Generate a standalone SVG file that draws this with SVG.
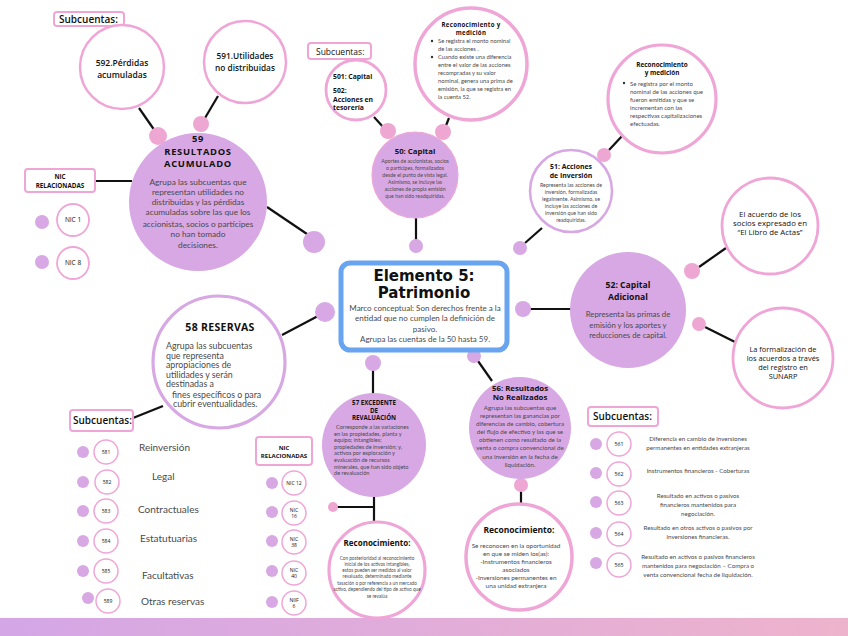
<svg xmlns="http://www.w3.org/2000/svg" width="848" height="636" viewBox="0 0 848 636">
<defs>
<linearGradient id="bar" x1="0" y1="0" x2="1" y2="0">
<stop offset="0" stop-color="#d4a6e6"/>
<stop offset="1" stop-color="#eeb3cc"/>
</linearGradient>
<style>
.pf{fill:#d7a8e3}
.pk{fill:#fff;stroke:#efa6d6}
.pu{fill:#fff;stroke:#d7a8e3}
.dp{fill:#d7a8e3}
.dk{fill:#eea6d3}
.ln{stroke:#111;stroke-width:2.2;fill:none}
.t{font-family:'Open Sans','DejaVu Sans',sans-serif;font-weight:700;fill:#111}
.s{font-family:'Open Sans','DejaVu Sans',sans-serif;fill:#111}
.b{font-family:Lato,'Open Sans',sans-serif;fill:#4a4a4a}
.m{text-anchor:middle}
</style>
</defs>
<rect width="848" height="636" fill="#fff"/>
<rect x="0" y="618" width="848" height="18" fill="url(#bar)"/>

<g id="connectors">
<line class="ln" x1="95" y1="181" x2="132" y2="181"/>
<line class="ln" x1="139" y1="108" x2="155" y2="131"/>
<line class="ln" x1="218" y1="96" x2="205" y2="118"/>
<line class="ln" x1="267" y1="207" x2="307" y2="234"/>
<line class="ln" x1="282" y1="335" x2="318" y2="316"/>
<line class="ln" x1="133" y1="418" x2="163" y2="406"/>
<line class="ln" x1="374" y1="117" x2="384" y2="128"/>
<line class="ln" x1="449" y1="118" x2="445" y2="128"/>
<line class="ln" x1="416" y1="218" x2="416" y2="240"/>
<line class="ln" x1="525" y1="243" x2="542" y2="228"/>
<line class="ln" x1="609" y1="150" x2="623" y2="135"/>
<line class="ln" x1="530" y1="309" x2="571" y2="309"/>
<line class="ln" x1="699" y1="267" x2="726" y2="248"/>
<line class="ln" x1="705" y1="327" x2="735" y2="342"/>
<line class="ln" x1="373" y1="368" x2="373" y2="397"/>
<line class="ln" x1="478" y1="361" x2="492" y2="381"/>
<line class="ln" x1="374" y1="493" x2="374" y2="522"/>
<line class="ln" x1="333" y1="507" x2="374" y2="507"/>
<line class="ln" x1="521" y1="490" x2="521" y2="505"/>
<circle class="dk" cx="158" cy="136" r="9"/>
<circle class="dk" cx="201" cy="124" r="8"/>
<circle class="dp" cx="314" cy="242" r="11"/>
<circle class="dp" cx="325" cy="312" r="10"/>
<circle class="dk" cx="388" cy="131" r="8"/>
<circle class="dk" cx="443" cy="132" r="8"/>
<circle class="dp" cx="416" cy="246" r="7"/>
<circle class="dp" cx="520" cy="248" r="7"/>
<circle class="dk" cx="604" cy="155" r="7"/>
<circle class="dp" cx="523" cy="309" r="8"/>
<circle class="dk" cx="692" cy="271" r="8"/>
<circle class="dk" cx="699" cy="324" r="7"/>
<circle class="dp" cx="373" cy="363" r="8"/>
<circle class="dp" cx="474" cy="356" r="7"/>
<circle class="dk" cx="333" cy="507" r="5"/>
<circle class="dk" cx="521" cy="485" r="7"/>
</g>

<g id="center">
<rect x="341" y="263" width="166" height="87" rx="9" fill="#fff" stroke="#68a4f0" stroke-width="5"/>
<text class="m" x="424" y="281" font-family="'DejaVu Sans',sans-serif" font-weight="700" font-size="15" fill="#111">Elemento 5:</text>
<text class="m" x="424" y="298" font-family="'DejaVu Sans',sans-serif" font-weight="700" font-size="15" fill="#111">Patrimonio</text>
<text class="b m" font-size="8"><tspan x="425" y="311">Marco conceptual: Son derechos frente a la</tspan><tspan x="425" y="321">entidad que no cumplen la definición de</tspan><tspan x="425" y="332">pasivo.</tspan><tspan x="425" y="342">Agrupa las cuentas de la 50 hasta 59.</tspan></text>
</g>

<g id="sub59">
<rect x="54" y="12" width="70" height="14" rx="3" fill="#fff" stroke="#efa6d6" stroke-width="2"/>
<text class="s" x="59" y="23" font-size="10" font-weight="600">Subcuentas:</text>
</g>
<g id="n592">
<circle class="pk" cx="122" cy="67" r="42" stroke-width="2.5"/>
<text class="s m" font-size="8.5" font-weight="600"><tspan x="122" y="66">592.Pérdidas</tspan><tspan x="122" y="78">acumuladas</tspan></text>
</g>
<g id="n591">
<circle class="pk" cx="245" cy="62" r="41" stroke-width="2.5"/>
<text class="s m" font-size="8.3" font-weight="600"><tspan x="245" y="59">591.Utilidades</tspan><tspan x="245" y="71">no distribuidas</tspan></text>
</g>

<g id="n59">
<circle class="pf" cx="198" cy="202" r="69"/>
<text class="t m" font-size="9.4" letter-spacing="0.7"><tspan x="198" y="142">59</tspan><tspan x="198" y="154.5">RESULTADOS</tspan><tspan x="198" y="167">ACUMULADO</tspan></text>
<text class="b m" font-size="8.3"><tspan x="198" y="185">Agrupa las subcuentas que</tspan><tspan x="198" y="195">representan utilidades no</tspan><tspan x="198" y="205">distribuidas y las pérdidas</tspan><tspan x="198" y="215">acumuladas sobre las que los</tspan><tspan x="198" y="227">accionistas, socios o partícipes</tspan><tspan x="198" y="237">no han tomado</tspan><tspan x="198" y="248">decisiones.</tspan></text>
</g>

<g id="nic59">
<rect x="25" y="169" width="70" height="23" rx="3" fill="#fff" stroke="#efa6d6" stroke-width="2"/>
<text class="t m" font-size="6.3"><tspan x="60" y="179">NIC</tspan><tspan x="60" y="188">RELACIONADAS</tspan></text>
<circle class="dp" cx="42" cy="222" r="7"/>
<circle class="pk" cx="73" cy="220" r="16" stroke-width="1.8"/>
<text class="s m" x="73" y="222" font-size="6.5">NIC 1</text>
<circle class="dp" cx="42" cy="262" r="7"/>
<circle class="pk" cx="73" cy="263" r="16" stroke-width="1.8"/>
<text class="s m" x="73" y="265" font-size="6.5">NIC 8</text>
</g>

<g id="sub50">
<rect x="308" y="43" width="63" height="16" rx="3" fill="#fff" stroke="#efa6d6" stroke-width="2"/>
<text class="s" x="316" y="55" font-size="8.5">Subcuentas:</text>
</g>
<g id="n501">
<circle class="pk" cx="356" cy="90" r="30" stroke-width="2.8"/>
<text class="t" font-size="6.8"><tspan x="333" y="79">501: Capital</tspan><tspan x="333" y="93">502:</tspan><tspan x="333" y="101.5">Acciones en</tspan><tspan x="333" y="110">tesorería</tspan></text>
</g>
<g id="rec50">
<circle class="pk" cx="471" cy="64" r="56" stroke-width="3.5"/>
<text class="t m" font-size="6.1" letter-spacing="0.3"><tspan x="471" y="27">Reconocimiento y</tspan><tspan x="471" y="34.5">medición</tspan></text>
<circle cx="432" cy="41" r="1.2" fill="#333"/>
<circle cx="432" cy="57" r="1.2" fill="#333"/>
<text class="b" font-size="5.8"><tspan x="438" y="43">Se registra el monto nominal</tspan><tspan x="438" y="51">de las acciones .</tspan><tspan x="438" y="59">Cuando existe una diferencia</tspan><tspan x="438" y="67">entre el valor de las acciones</tspan><tspan x="438" y="75">recompradas y su valor</tspan><tspan x="438" y="83">nominal, genera una prima de</tspan><tspan x="438" y="91">emisión, la que se registra en</tspan><tspan x="438" y="99">la cuenta 52.</tspan></text>
</g>
<g id="n50">
<circle class="pf" cx="415" cy="175" r="43" stroke="#efa6d6" stroke-width="1.2"/>
<text class="t m" x="415" y="154" font-size="7.8">50: Capital</text>
<text class="b m" font-size="5.2"><tspan x="415" y="163">Aportes de accionistas, socios</tspan><tspan x="415" y="170">o partícipes, formalizados</tspan><tspan x="415" y="177">desde el punto de vista legal.</tspan><tspan x="415" y="184">Asimismo, se incluye las</tspan><tspan x="415" y="191">acciones de propia emisión</tspan><tspan x="415" y="198">que han sido readquiridas.</tspan></text>
</g>

<g id="rec51">
<circle class="pk" cx="662" cy="99" r="54" stroke-width="3.2"/>
<text class="t m" font-size="6.4"><tspan x="662" y="67">Reconocimiento</tspan><tspan x="662" y="75">y medición</tspan></text>
<circle cx="624" cy="83" r="1.2" fill="#333"/>
<text class="b" font-size="6"><tspan x="630" y="86">Se registra por el monto</tspan><tspan x="630" y="94">nominal de las acciones que</tspan><tspan x="630" y="102">fueron emitidas y que se</tspan><tspan x="630" y="110">incrementan con las</tspan><tspan x="630" y="118">respectivas capitalizaciones</tspan><tspan x="630" y="126">efectuadas.</tspan></text>
</g>
<g id="n51">
<circle class="pu" cx="571" cy="191" r="41" stroke-width="2.5"/>
<text class="t m" font-size="6.9"><tspan x="571" y="169">51: Acciones</tspan><tspan x="571" y="177.5">de Inversión</tspan></text>
<text class="b m" font-size="5.3"><tspan x="571" y="187">Representa las acciones de</tspan><tspan x="571" y="194">inversión, formalizadas</tspan><tspan x="571" y="201">legalmente. Asimismo, se</tspan><tspan x="571" y="208">incluye las acciones de</tspan><tspan x="571" y="215">inversión que han sido</tspan><tspan x="571" y="222">readquiridas.</tspan></text>
</g>

<g id="n52">
<circle class="pf" cx="628" cy="310" r="58"/>
<text class="t m" font-size="8.6"><tspan x="628" y="288">52: Capital</tspan><tspan x="628" y="300">Adicional</tspan></text>
<text class="b m" font-size="7.8"><tspan x="628" y="317">Representa las primas de</tspan><tspan x="628" y="328">emisión y los aportes y</tspan><tspan x="628" y="338">reducciones de capital.</tspan></text>
</g>
<g id="acuerdo">
<circle class="pk" cx="770" cy="226" r="48" stroke-width="2.8"/>
<text class="s m" font-size="7.8"><tspan x="770" y="217">El acuerdo de los</tspan><tspan x="770" y="226">socios expresado en</tspan><tspan x="770" y="235">“El Libro de Actas”</tspan></text>
</g>
<g id="formalizacion">
<circle class="pk" cx="783" cy="358" r="50" stroke-width="2.8"/>
<text class="s m" font-size="7.4"><tspan x="783" y="352">La formalización de</tspan><tspan x="783" y="361">los acuerdos a través</tspan><tspan x="783" y="370">del registro en</tspan><tspan x="783" y="379">SUNARP</tspan></text>
</g>

<g id="n58">
<circle class="pu" cx="219" cy="362" r="66" stroke-width="3.2"/>
<text class="t m" x="220" y="331" font-size="10.5" letter-spacing="0.3">58 RESERVAS</text>
<text class="b" font-size="8.8"><tspan x="166" y="349">Agrupa las subcuentas</tspan><tspan x="166" y="358.5">que representa</tspan><tspan x="166" y="368">apropiaciones de</tspan><tspan x="166" y="377.5">utilidades y serán</tspan><tspan x="166" y="387">destinadas a</tspan><tspan x="172" y="397.5">fines específicos o para</tspan><tspan x="173" y="407">cubrir eventualidades.</tspan></text>
</g>
<g id="sub58">
<rect x="70" y="410" width="63" height="21" rx="3" fill="#fff" stroke="#efa6d6" stroke-width="2"/>
<text class="s" x="73" y="424" font-size="10" font-weight="600">Subcuentas:</text>
<circle class="dp" cx="83" cy="452" r="6"/><circle class="pk" cx="106" cy="452" r="12" stroke-width="1.5"/><text class="s m" x="106" y="454" font-size="5">581</text>
<text class="b" x="139" y="451" font-size="10">Reinversión</text>
<circle class="dp" cx="83" cy="482" r="6"/><circle class="pk" cx="107" cy="482" r="12" stroke-width="1.5"/><text class="s m" x="107" y="484" font-size="5">582</text>
<text class="b" x="152" y="480" font-size="10">Legal</text>
<circle class="dp" cx="83" cy="511" r="6"/><circle class="pk" cx="106" cy="511" r="12" stroke-width="1.5"/><text class="s m" x="106" y="513" font-size="5">583</text>
<text class="b" x="138" y="513" font-size="10">Contractuales</text>
<circle class="dp" cx="83" cy="541" r="6"/><circle class="pk" cx="106" cy="541" r="12" stroke-width="1.5"/><text class="s m" x="106" y="543" font-size="5">584</text>
<text class="b" x="140" y="542" font-size="10">Estatutuarias</text>
<circle class="dp" cx="83" cy="571" r="6"/><circle class="pk" cx="106" cy="571" r="12" stroke-width="1.5"/><text class="s m" x="106" y="573" font-size="5">585</text>
<text class="b" x="142" y="579" font-size="10">Facultativas</text>
<circle class="dp" cx="88" cy="598" r="6"/><circle class="pk" cx="108" cy="601" r="12" stroke-width="1.5"/><text class="s m" x="108" y="603" font-size="5">589</text>
<text class="b" x="141" y="605" font-size="10">Otras reservas</text>
</g>

<g id="n57">
<circle class="pf" cx="374" cy="445" r="52"/>
<text class="t m" font-size="6.2"><tspan x="374" y="405">57 EXCEDENTE</tspan><tspan x="374" y="412.5">DE</tspan><tspan x="374" y="420">REVALUACIÓN</tspan></text>
<text class="b" font-size="5.6"><tspan x="336" y="429">Corresponde a las variaciones</tspan><tspan x="334" y="435.6">en las propiedades, planta y</tspan><tspan x="334" y="442.2">equipo; intangibles;</tspan><tspan x="334" y="448.8">propiedades de inversión; y,</tspan><tspan x="334" y="455.4">activos por exploración y</tspan><tspan x="334" y="462">evaluación de recursos</tspan><tspan x="334" y="468.6">minerales, que han sido objeto</tspan><tspan x="334" y="475.2">de revaluación</tspan></text>
</g>
<g id="rec57">
<circle class="pk" cx="377" cy="570" r="48" stroke-width="3.2"/>
<text class="t m" x="377" y="546" font-size="8">Reconocimiento:</text>
<text class="b m" font-size="4.7"><tspan x="377" y="560">Con posterioridad al reconocimiento</tspan><tspan x="377" y="566">inicial de los activos intangibles,</tspan><tspan x="377" y="572">estos pueden ser medidos al valor</tspan><tspan x="377" y="578">revaluado, determinado mediante</tspan><tspan x="377" y="585">tasación o por referencia a un mercado</tspan><tspan x="377" y="591">activo, dependiendo del tipo de activo que</tspan><tspan x="377" y="598">se revalúa</tspan></text>
</g>
<g id="nic57">
<rect x="256" y="437" width="56" height="28" rx="3" fill="#fff" stroke="#efa6d6" stroke-width="2"/>
<text class="t m" font-size="6"><tspan x="284" y="450">NIC</tspan><tspan x="284" y="458">RELACIONADAS</tspan></text>
<circle class="dp" cx="272" cy="483" r="6"/><circle class="pk" cx="294" cy="483" r="12" stroke-width="1.5"/><text class="s m" x="294" y="485" font-size="5">NIC 12</text>
<circle class="dp" cx="272" cy="512" r="6"/><circle class="pk" cx="294" cy="513" r="12" stroke-width="1.5"/><text class="s m" font-size="5"><tspan x="294" y="511.5">NIC</tspan><tspan x="294" y="518">16</tspan></text>
<circle class="dp" cx="272" cy="541" r="6"/><circle class="pk" cx="294" cy="542" r="12" stroke-width="1.5"/><text class="s m" font-size="5"><tspan x="294" y="540.5">NIC</tspan><tspan x="294" y="547">38</tspan></text>
<circle class="dp" cx="272" cy="571" r="6"/><circle class="pk" cx="294" cy="573" r="12" stroke-width="1.5"/><text class="s m" font-size="5"><tspan x="294" y="571.5">NIC</tspan><tspan x="294" y="578">40</tspan></text>
<circle class="dp" cx="272" cy="602" r="6"/><circle class="pk" cx="294" cy="603" r="12" stroke-width="1.5"/><text class="s m" font-size="5"><tspan x="294" y="601.5">NIIF</tspan><tspan x="294" y="608">6</tspan></text>
</g>

<g id="n56">
<circle class="pf" cx="520" cy="428" r="51"/>
<text class="t m" font-size="7.8"><tspan x="520" y="391">56: Resultados</tspan><tspan x="520" y="400">No Realizados</tspan></text>
<text class="b m" font-size="6.2"><tspan x="520" y="410">Agrupa las subcuentas que</tspan><tspan x="520" y="418">representan las ganancias por</tspan><tspan x="520" y="426">diferencias de cambio, cobertura</tspan><tspan x="520" y="434">del flujo de efectivo y las que se</tspan><tspan x="520" y="442">obtienen como resultado de la</tspan><tspan x="520" y="450">venta o compra convencional de</tspan><tspan x="520" y="459">una inversión en la fecha de</tspan><tspan x="520" y="467">liquidación.</tspan></text>
</g>
<g id="rec56">
<circle class="pk" cx="519" cy="557" r="53" stroke-width="3.5"/>
<text class="t m" x="519" y="533" font-size="8.5">Reconocimiento:</text>
<text class="b m" font-size="6.4"><tspan x="516" y="548">Se reconocen en la oportunidad</tspan><tspan x="516" y="556">en que se miden los(as):</tspan><tspan x="516" y="564">-Instrumentos financieros</tspan><tspan x="516" y="572">asociados</tspan><tspan x="516" y="580">-Inversiones permanentes en</tspan><tspan x="516" y="588">una unidad extranjera</tspan></text>
</g>

<g id="sub56">
<rect x="588" y="407" width="70" height="19" rx="3" fill="#fff" stroke="#efa6d6" stroke-width="2"/>
<text class="s" x="593" y="420" font-size="10" font-weight="600">Subcuentas:</text>
<circle class="dp" cx="596" cy="444" r="6"/><circle class="pk" cx="619" cy="444" r="12" stroke-width="1.5"/><text class="s m" x="619" y="446" font-size="5.2">561</text>
<text class="b m" font-size="6.2"><tspan x="698" y="441">Diferencia en cambio de inversiones</tspan><tspan x="698" y="450">permanentes en entidades extranjeras</tspan></text>
<circle class="dp" cx="596" cy="473" r="6"/><circle class="pk" cx="619" cy="474" r="12" stroke-width="1.5"/><text class="s m" x="619" y="476" font-size="5.2">562</text>
<text class="b m" x="698" y="473" font-size="6.2">Instrumentos financieros - Coberturas</text>
<circle class="dp" cx="596" cy="502" r="6"/><circle class="pk" cx="619" cy="503" r="12" stroke-width="1.5"/><text class="s m" x="619" y="505" font-size="5.2">563</text>
<text class="b m" font-size="6.2"><tspan x="698" y="498">Resultado en activos o pasivos</tspan><tspan x="698" y="507">financieros mantenidos para</tspan><tspan x="698" y="516">negociación.</tspan></text>
<circle class="dp" cx="596" cy="533" r="6"/><circle class="pk" cx="619" cy="534" r="12" stroke-width="1.5"/><text class="s m" x="619" y="536" font-size="5.2">564</text>
<text class="b m" font-size="6.2"><tspan x="698" y="530">Resultado en otros activos o pasivos por</tspan><tspan x="698" y="539">inversiones financieras.</tspan></text>
<circle class="dp" cx="596" cy="563" r="6"/><circle class="pk" cx="619" cy="565" r="12" stroke-width="1.5"/><text class="s m" x="619" y="567" font-size="5.2">565</text>
<text class="b m" font-size="6.2"><tspan x="698" y="559">Resultado en activos o pasivos financieros</tspan><tspan x="698" y="568">mantenidos para negociación – Compra o</tspan><tspan x="698" y="577">venta convencional fecha de liquidación.</tspan></text>
</g>
</svg>
